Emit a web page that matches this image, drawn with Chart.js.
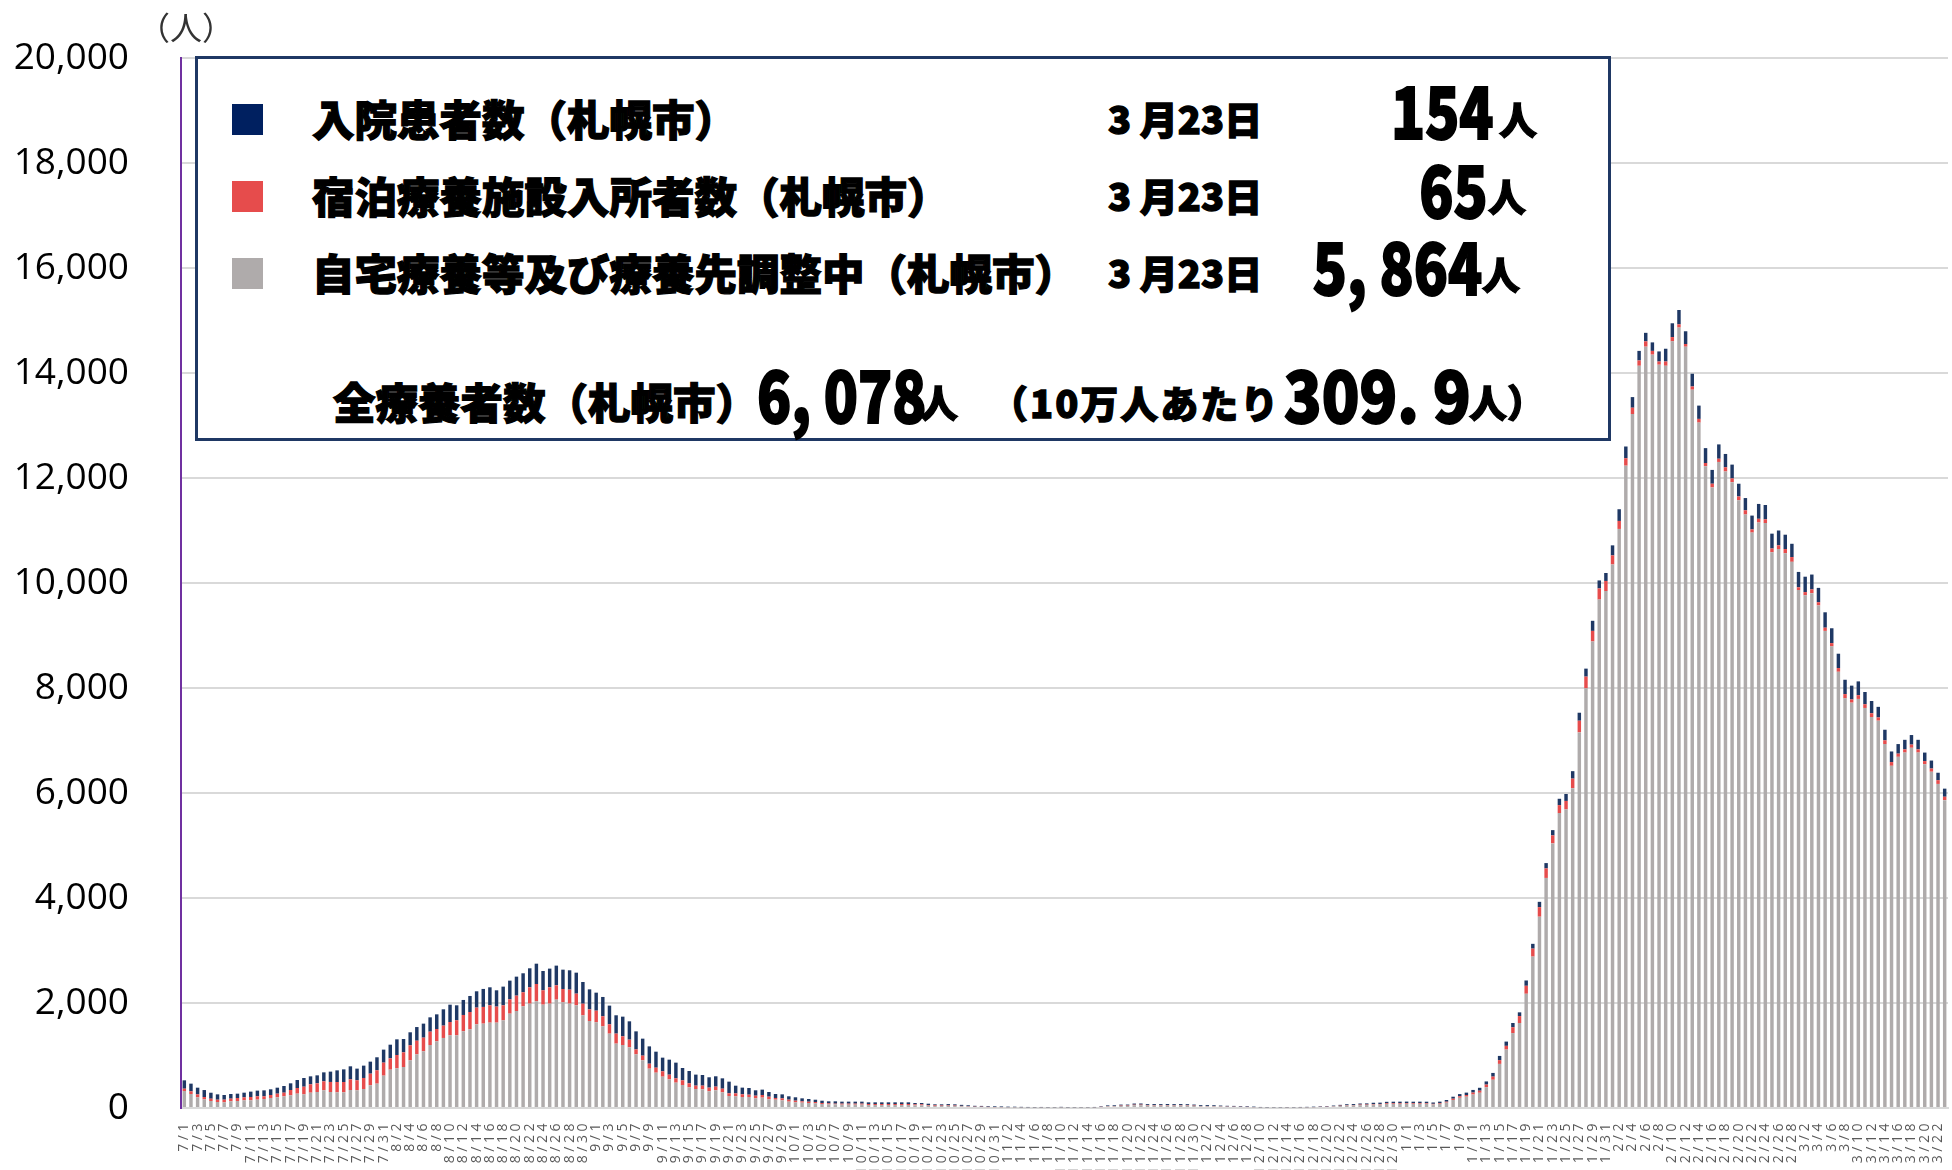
<!DOCTYPE html>
<html>
<head>
<meta charset="utf-8">
<script src="https://cdn.jsdelivr.net/npm/chart.js@4.4.1/dist/chart.umd.min.js"></script>
<style>
html,body{margin:0;padding:0;background:#fff;}
#wrap{position:relative;width:1952px;height:1170px;overflow:hidden;background:#fff;}
#c{position:absolute;left:0;top:0;}
.t{position:absolute;white-space:nowrap;font-family:'Noto Sans CJK JP','Noto Sans CJK SC',sans-serif;font-weight:900;line-height:1;color:#000;-webkit-text-stroke:1.3px #000;}
.big{font-size:72px;transform:scaleX(0.78);-webkit-text-stroke:2px #000;}
.r{transform-origin:right center;}
.l{transform-origin:left center;}
.sq{position:absolute;width:31px;height:31px;}
#box{position:absolute;left:195px;top:56px;width:1416px;height:385px;box-sizing:border-box;border:3px solid #1F3864;background:#fff;}
#unit{position:absolute;left:138px;top:10px;font-family:'Noto Sans CJK JP',sans-serif;font-size:32px;line-height:1;color:#333;}
</style>
</head>
<body>
<div id="wrap">
<canvas id="c" width="1952" height="1170"></canvas>
<div id="unit">（人）</div>
<div id="box"></div>
<div class="sq" style="left:232px;top:104px;background:#002060;"></div>
<div class="sq" style="left:232px;top:181px;background:#E64C4C;"></div>
<div class="sq" style="left:232px;top:258px;background:#AFABAB;"></div>

<div class="t" style="left:312px;top:97px;font-size:42.5px;">入院患者数（札幌市）</div>
<div class="t" style="left:312px;top:174px;font-size:42.5px;">宿泊療養施設入所者数（札幌市）</div>
<div class="t" style="left:312px;top:251px;font-size:42.5px;">自宅療養等及び療養先調整中（札幌市）</div>

<div class="t" style="left:1108px;top:99px;font-size:38px;">3 月23日</div>
<div class="t" style="left:1108px;top:176px;font-size:38px;">3 月23日</div>
<div class="t" style="left:1108px;top:253px;font-size:38px;">3 月23日</div>

<div class="t big r" style="right:458px;top:72px;">154</div>
<div class="t" style="left:1499px;top:99px;font-size:38px;">人</div>
<div class="t big r" style="right:464px;top:151px;">65</div>
<div class="t" style="left:1488px;top:176px;font-size:38px;">人</div>
<div class="t big r" style="right:470px;top:228px;">5, 864</div>
<div class="t" style="left:1482px;top:254px;font-size:38px;">人</div>

<div class="t" style="left:333px;top:380px;font-size:42.5px;">全療養者数（札幌市）</div>
<div class="t big l" style="left:757px;top:356px;">6, 078</div>
<div class="t" style="left:920px;top:382px;font-size:38px;">人</div>
<div class="t" style="left:990px;top:383px;font-size:38px;letter-spacing:2px;">（10万人あたり</div>
<div class="t big l" style="left:1284px;top:356px;transform:scaleX(0.86);">309. 9</div>
<div class="t" style="left:1469px;top:382px;font-size:38px;">人）</div>
</div>

<script>
// ---- categories: 2021/7/1 .. 2022/3/23 (daily) ----
const startDate = Date.UTC(2021, 6, 1);
const dayCount = 266;
const dateLabels = [];
for (let i = 0; i < dayCount; i++) {
  const d = new Date(startDate + i * 86400000);
  dateLabels.push((d.getUTCMonth() + 1) + '/' + d.getUTCDate());
}

// ---- series (people) ----
const hospitalized = [
  159,146,127,133,114,102,89,89,83,89,
  102,108,114,108,114,127,127,152,165,152,
  152,171,197,222,241,248,222,235,229,248,
  248,260,298,254,248,260,267,273,279,311,
  330,286,286,305,311,343,343,311,356,356,
  362,362,362,387,368,356,375,368,368,400,
  413,381,343,368,356,349,375,349,343,324,
  330,305,260,286,298,235,235,210,203,197,
  197,197,222,146,127,127,102,102,89,76,
  76,64,64,57,51,44,44,38,44,38,
  38,38,38,32,32,32,32,32,32,32,
  25,25,25,19,22,24,22,20,18,16,
  15,13,13,12,11,10,10,9,9,9,
  8,8,9,8,8,7,7,8,10,14,
  15,18,18,22,22,20,20,20,21,21,
  21,20,19,17,17,16,15,14,14,12,
  12,10,8,8,7,7,7,7,8,8,
  9,10,11,13,16,18,19,21,22,24,
  25,27,28,28,28,28,28,28,26,28,
  32,38,42,45,50,55,60,70,81,81,
  81,71,101,91,101,101,101,121,132,142,
  152,152,192,152,152,192,223,223,202,182,
  162,162,192,243,263,273,243,243,253,283,
  263,273,253,263,243,233,263,283,273,283,
  283,273,253,293,293,283,273,293,283,273,
  273,263,263,233,233,202,202,202,182,182,
  182,182,162,152,142,154
];
const hotelCare = [
  44,51,57,44,44,44,51,51,57,57,
  64,64,51,57,70,70,102,108,146,159,
  165,171,191,197,197,203,191,210,222,254,
  248,216,254,279,286,260,260,254,235,235,
  254,286,311,330,318,318,330,305,286,273,
  292,267,311,330,273,311,273,254,267,222,
  222,222,222,191,178,191,165,146,95,89,
  95,95,102,89,83,89,76,64,70,70,
  70,70,51,57,51,44,51,51,51,32,
  38,38,32,25,25,25,19,19,13,19,
  19,19,19,19,19,19,19,19,19,19,
  19,19,13,13,10,10,9,8,7,5,
  5,4,3,3,2,2,2,1,1,2,
  1,1,2,1,1,1,1,2,4,6,
  6,8,8,10,10,9,9,9,9,8,
  8,8,7,6,6,6,5,4,4,3,
  3,2,2,1,1,1,2,1,2,2,
  2,3,4,5,6,8,8,10,10,12,
  12,14,14,14,14,14,14,13,12,14,
  18,24,28,32,38,40,50,60,71,71,
  111,132,152,152,182,182,152,152,162,182,
  223,223,202,213,192,172,152,142,121,101,
  101,71,61,81,81,61,51,61,71,61,
  71,61,81,71,71,81,61,71,71,71,
  71,81,91,51,61,71,61,61,61,71,
  81,61,71,71,71,61,71,71,61,61,
  61,61,61,61,71,65
];
const homeCare = [
  324,267,203,165,133,114,108,127,133,146,
  146,159,171,191,203,222,241,273,260,292,
  305,337,305,298,298,343,337,362,432,464,
  616,730,756,781,908,1022,1080,1200,1270,1334,
  1384,1384,1461,1499,1594,1607,1626,1626,1670,1797,
  1848,1937,1988,2032,1969,1988,2064,2013,1988,1956,
  1765,1657,1632,1556,1416,1226,1200,1156,1022,908,
  749,673,597,546,483,438,394,362,356,318,
  337,298,229,222,210,210,184,197,165,159,
  146,121,108,102,95,89,76,70,70,64,
  64,64,64,57,57,57,57,57,57,57,
  51,51,44,38,38,41,39,32,27,21,
  20,17,16,15,13,13,10,10,8,9,
  8,7,11,9,7,7,8,10,18,30,
  31,39,40,53,54,45,46,45,46,45,
  46,45,40,31,32,31,27,24,22,19,
  18,15,10,9,9,10,10,10,10,12,
  15,20,20,29,38,46,48,55,56,64,
  65,77,78,79,80,78,79,79,67,79,
  102,153,195,216,256,290,396,538,840,1113,
  1427,1619,2176,2884,3644,4382,5040,5617,5687,6092,
  7154,7994,8886,9684,9847,10353,11030,12235,13218,14138,
  14502,14350,14158,14138,14603,14866,14501,13682,13055,12225,
  11820,12306,12124,11921,11577,11304,10960,11152,11142,10586,
  10646,10566,10403,9867,9766,9807,9573,9088,8794,8309,
  7803,7721,7792,7620,7448,7378,6932,6518,6689,6770,
  6861,6770,6547,6405,6173,5864
];

// ---- y axis ticks ----
const yMin = 0, yMax = 20000, yStep = 2000;

const xLabelSpacing = {
  id: 'xLabelSpacing',
  beforeDraw(chart) {
    const s = chart.scales.x;
    if (s && !s._spacingWrapped) {
      const orig = s.drawLabels;
      s.drawLabels = function (area) {
        const c = this.ctx;
        c.save();
        c.letterSpacing = '3.5px';
        orig.call(this, area);
        c.restore();
      };
      s._spacingWrapped = true;
    }
  }
};

function draw() {
  new Chart(document.getElementById('c'), {
    type: 'bar',
    data: {
      labels: dateLabels,
      datasets: [
        { label: '自宅療養等及び療養先調整中（札幌市）', data: homeCare, backgroundColor: '#AFABAB' },
        { label: '宿泊療養施設入所者数（札幌市）', data: hotelCare, backgroundColor: '#E64C4C' },
        { label: '入院患者数（札幌市）', data: hospitalized, backgroundColor: '#1F3864' }
      ]
    },
    options: {
      responsive: false,
      animation: false,
      devicePixelRatio: 1,
      locale: 'en-US',
      layout: { padding: { left: 0, right: 4, top: 58, bottom: 0 } },
      datasets: { bar: { categoryPercentage: 1.0, barPercentage: 0.52, borderWidth: 0 } },
      plugins: { legend: { display: false }, tooltip: { enabled: false } },
      scales: {
        x: {
          stacked: true,
          grid: { display: false, drawTicks: false },
          border: { display: true, color: '#D9D9D9', width: 2 },
          ticks: {
            autoSkip: false, maxRotation: 90, minRotation: 90, padding: 12,
            color: '#595959', font: { family: 'Open Sans', size: 14 },
            callback: function (v, i) { return i % 2 === 0 ? this.getLabelForValue(v) : ''; }
          },
          afterFit(s) { s.height = 62; s.paddingLeft = 0; s.paddingRight = 0; }
        },
        y: {
          stacked: true, min: yMin, max: yMax,
          ticks: { stepSize: yStep, padding: 52, color: '#000', font: { family: 'Open Sans', size: 37 } },
          grid: { color: '#D9D9D9', lineWidth: 2, drawTicks: false },
          border: { display: true, color: '#7030A0', width: 2 },
          afterFit(s) { s.width = 181; s.paddingTop = 0; s.paddingBottom = 0; }
        }
      }
    },
    plugins: [xLabelSpacing]
  });
}

Promise.all([
  document.fonts.load('37px "Open Sans"'),
  document.fonts.load('14px "Open Sans"'),
  document.fonts.load('900 42px "Noto Sans CJK JP"')
]).then(draw, draw);
</script>
</body>
</html>
